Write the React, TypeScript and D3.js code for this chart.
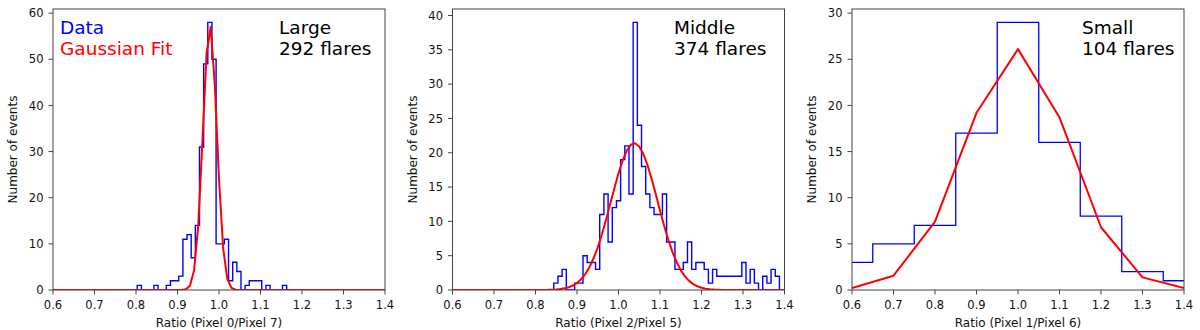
import React from 'react';
import * as d3 from 'd3';

// histogram bins (ratio) and counts

const xTicks = [0.6, 0.7, 0.8, 0.9, 1.0, 1.1, 1.2, 1.3, 1.4];

// Large
const largeBinStart = 0.803;
const largeBinWidth = 0.01;
const largeCounts = [1, 0, 0, 0, 1, 0, 0, 1, 2, 2, 3, 11, 12, 7, 14, 31, 49, 58, 50, 10, 10, 11, 2, 6, 4, 0, 1, 2, 2, 2, 0, 1, 0, 0, 0, 1];
const largeFitX = [0.6, 0.91, 0.92, 0.93, 0.94, 0.95, 0.96, 0.97, 0.98, 0.99, 1.0, 1.01, 1.02, 1.03, 1.04, 1.05, 1.4];
const largeFitY = [0, 0, 0.14, 0.92, 4.3, 14.0, 32.1, 51.2, 57.0, 44.3, 24.1, 9.1, 2.4, 0.45, 0.06, 0, 0];
const largeYTicks = [0, 10, 20, 30, 40, 50, 60];

// Middle
const middleBinStart = 0.844;
const middleBinWidth = 0.01007;
const middleCounts = [1, 2, 3, 0, 0, 1, 1, 5, 4, 4, 3, 11, 14, 7, 12, 13, 19, 21, 14, 39, 24, 18, 14, 12, 11, 11, 14, 7, 7, 3, 3, 4, 7, 3, 4, 4, 3, 1, 3, 2, 2, 2, 2, 2, 2, 4, 1, 3, 1, 0, 2, 1, 3, 2];
const middleFitX = [0.6, 0.83, 0.84, 0.85, 0.86, 0.87, 0.88, 0.89, 0.9, 0.91, 0.92, 0.93, 0.94, 0.95, 0.96, 0.97, 0.98, 0.99, 1.0, 1.01, 1.02, 1.03, 1.04, 1.05, 1.06, 1.07, 1.08, 1.09, 1.1, 1.11, 1.12, 1.13, 1.14, 1.15, 1.16, 1.17, 1.18, 1.19, 1.2, 1.21, 1.22, 1.23, 1.24, 1.25, 1.4];
const middleFitY = [0, 0.02, 0.04, 0.08, 0.14, 0.24, 0.4, 0.65, 1.03, 1.57, 2.32, 3.33, 4.63, 6.22, 8.11, 10.24, 12.52, 14.82, 17.0, 18.89, 20.32, 21.18, 21.39, 20.91, 19.81, 18.18, 16.16, 13.91, 11.59, 9.36, 7.33, 5.55, 4.08, 2.9, 1.99, 1.33, 0.86, 0.54, 0.33, 0.19, 0.11, 0.06, 0.03, 0.01, 0];
const middleYTicks = [0, 5, 10, 15, 20, 25, 30, 35, 40];

// Small
const smallBinStart = 0.55;
const smallBinWidth = 0.1;
const smallCounts = [3, 5, 7, 17, 29, 16, 8, 2, 1];
const smallFitX = [0.6, 0.7, 0.8, 0.9, 1.0, 1.1, 1.2, 1.3, 1.4];
const smallFitY = [0.2, 1.55, 7.4, 19.2, 26.1, 18.7, 6.8, 1.37, 0.2];
const smallYTicks = [0, 5, 10, 15, 20, 25, 30];

const panels = [
  {id: 'large', left: 53, start: largeBinStart, width: largeBinWidth, counts: largeCounts, fitX: largeFitX, fitY: largeFitY, yTicks: largeYTicks, yMax: 60.9, xLabel: 'Ratio (Pixel 0/Pixel 7)', title: ['Large', '292 flares'], titleX: 226, legend: true, blueW: 1.4},
  {id: 'middle', left: 452.5, start: middleBinStart, width: middleBinWidth, counts: middleCounts, fitX: middleFitX, fitY: middleFitY, yTicks: middleYTicks, yMax: 40.95, xLabel: 'Ratio (Pixel 2/Pixel 5)', title: ['Middle', '374 flares'], titleX: 221.5, legend: false, blueW: 1.4},
  {id: 'small', left: 852, start: smallBinStart, width: smallBinWidth, counts: smallCounts, fitX: smallFitX, fitY: smallFitY, yTicks: smallYTicks, yMax: 30.45, xLabel: 'Ratio (Pixel 1/Pixel 6)', title: ['Small', '104 flares'], titleX: 230, legend: false, blueW: 1.3},
];

const W = 332, TOP = 9, BOTTOM = 290;
const font = '"DejaVu Sans", sans-serif';

function Panel(props: any) {
  const p = props.p;
  const x = d3.scaleLinear().domain([0.6, 1.4]).range([p.left, p.left + W]);
  const y = d3.scaleLinear().domain([0, p.yMax]).range([BOTTOM, TOP]);

  const n = p.counts.length;
  const pts: [number, number][] = [[p.start, 0]];
  p.counts.forEach((c: number, i: number) => pts.push([p.start + i * p.width, c]));
  pts.push([p.start + n * p.width, p.counts[n - 1]]);
  pts.push([p.start + n * p.width, 0]);
  const step = d3.line<[number, number]>().x(d => x(d[0])).y(d => y(d[1])).curve(d3.curveStepAfter)(pts);

  const fit = d3.line<number>().x(d => x(d)).y((d, i) => y(p.fitY[i]))(p.fitX);
  const clipId = 'clip-' + p.id;

  return (
    <g fontFamily={font}>
      <defs>
        <clipPath id={clipId}>
          <rect x={p.left} y={TOP} width={W} height={BOTTOM - TOP}/>
        </clipPath>
      </defs>
      <g clipPath={`url(#${clipId})`}>
        <path d={step || ''} fill="none" stroke="#0000ff" strokeWidth={p.blueW}/>
        <path d={fit || ''} fill="none" stroke="#ff0000" strokeWidth={2} strokeLinejoin="round"/>
      </g>
      <rect x={p.left} y={TOP} width={W} height={BOTTOM - TOP} fill="none" stroke="#444" strokeWidth={1}/>
      {xTicks.map(t => (
        <g key={'x' + t}>
          <line x1={x(t)} x2={x(t)} y1={BOTTOM} y2={BOTTOM + 4.5} stroke="#444"/>
          <text x={x(t)} y={309} fontSize={11.5} textAnchor="middle" fill="#111">{t.toFixed(1)}</text>
        </g>
      ))}
      {p.yTicks.map((t: number) => (
        <g key={'y' + t}>
          <line x1={p.left - 4.5} x2={p.left} y1={y(t)} y2={y(t)} stroke="#444"/>
          <text x={p.left - 9.5} y={y(t)} dy="0.36em" fontSize={11.5} textAnchor="end" fill="#111">{t}</text>
        </g>
      ))}
      <text x={p.left + W / 2} y={327} fontSize={12} textAnchor="middle" fill="#111">{p.xLabel}</text>
      <text transform={`translate(${p.left - 36},${(TOP + BOTTOM) / 2}) rotate(-90)`} fontSize={12} textAnchor="middle" fill="#111">Number of events</text>
      <text x={p.left + p.titleX} y={34} fontSize={18.5} fill="#000">{p.title[0]}</text>
      <text x={p.left + p.titleX} y={55} fontSize={18.5} fill="#000">{p.title[1]}</text>
      {p.legend && (
        <g fontSize={18.5}>
          <text x={p.left + 7} y={34} fill="#0000ff">Data</text>
          <text x={p.left + 7} y={55} fill="#ff0000">Gaussian Fit</text>
        </g>
      )}
    </g>
  );
}

export default function App() {
  return (
    <svg width={1200} height={330} style={{position: 'absolute', left: 0, top: 0, display: 'block', background: '#fff'}}>
      <rect width={1200} height={330} fill="#fff"/>
      {panels.map(p => <Panel key={p.id} p={p}/>)}
    </svg>
  );
}
